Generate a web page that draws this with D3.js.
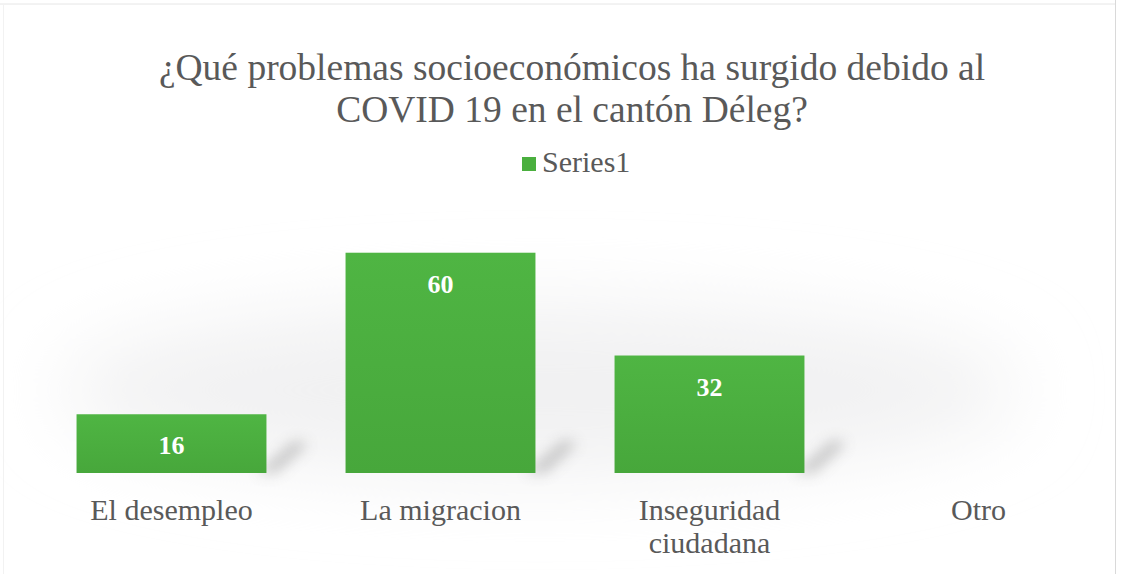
<!DOCTYPE html>
<html>
<head>
<meta charset="utf-8">
<script src="https://cdn.jsdelivr.net/npm/d3@7"></script>
<style>
  body { margin: 0; background: #fff; }
  svg { display: block; }
</style>
</head>
<body>
<div id="wrapper"></div>
<script>
// Chart data
const categories = ['El desempleo', 'La migracion', 'Inseguridad ciudadana', 'Otro'];
const values = [16, 60, 32, null];
const seriesName = 'Series1';
const titleLines = ['¿Qué problemas socioeconómicos ha surgido debido al', 'COVID 19 en el cantón Déleg?'];

const width = 1130;
const height = 574;
const margin = { top: 216, right: 17, bottom: 101, left: 37 };
const boundedWidth = width - margin.left - margin.right;
const boundedHeight = height - margin.top - margin.bottom;

const serif = '"Liberation Serif", "Times New Roman", serif';

const svg = d3.select('#wrapper')
  .append('svg')
  .attr('width', width)
  .attr('height', height);

const defs = svg.append('defs');

const barGrad = defs.append('linearGradient')
  .attr('id', 'barGrad')
  .attr('x1', 0).attr('y1', 0).attr('x2', 0).attr('y2', 1);
barGrad.append('stop').attr('offset', '0').attr('stop-color', '#4fb543');
barGrad.append('stop').attr('offset', '1').attr('stop-color', '#47a73b');

defs.append('filter')
  .attr('id', 'blur')
  .attr('x', '-50%').attr('y', '-50%').attr('width', '200%').attr('height', '200%')
  .append('feGaussianBlur').attr('stdDeviation', 7);

defs.append('filter')
  .attr('id', 'floorBlur')
  .attr('x', '-30%').attr('y', '-80%').attr('width', '160%').attr('height', '260%')
  .append('feGaussianBlur').attr('stdDeviation', 40);

// Background and frame
svg.append('rect')
  .attr('x', 0).attr('y', 0).attr('width', width).attr('height', height)
  .attr('fill', '#fff');
svg.append('ellipse')
  .attr('cx', 540).attr('cy', 390).attr('rx', 480).attr('ry', 85)
  .attr('fill', '#f1f1f2')
  .attr('filter', 'url(#floorBlur)');
svg.append('line')
  .attr('x1', 0).attr('x2', 1115).attr('y1', 4).attr('y2', 4)
  .attr('stroke', '#e6e6e6').attr('stroke-width', 1);
svg.append('line')
  .attr('x1', 1115.5).attr('x2', 1115.5).attr('y1', 0).attr('y2', height)
  .attr('stroke', '#d9d9d9').attr('stroke-width', 1);
svg.append('line')
  .attr('x1', 3.5).attr('x2', 3.5).attr('y1', 4).attr('y2', height)
  .attr('stroke', '#f2f2f2').attr('stroke-width', 1);

// Scales
const xScale = d3.scaleBand()
  .domain(categories)
  .range([0, boundedWidth])
  .paddingInner(0.294)
  .paddingOuter(0.147);

const yScale = d3.scaleLinear()
  .domain([0, 70])
  .range([boundedHeight, 0]);

const bounds = svg.append('g')
  .attr('transform', `translate(${margin.left}, ${margin.top})`);

const dataset = categories.map((c, i) => ({ category: c, value: values[i] }))
  .filter((d) => d.value != null);

// Shadows
bounds.selectAll('.shadow')
  .data(dataset)
  .enter()
  .append('path')
  .attr('class', 'shadow')
  .attr('d', (d) => {
    const x1 = xScale(d.category) + xScale.bandwidth();
    const y0 = boundedHeight;
    const h = Math.min(boundedHeight - yScale(d.value), 60);
    return `M${x1 - 10},${y0} L${x1 + 28},${y0 - h * 0.55} L${x1 + 42},${y0 - h * 0.5} L${x1 + 10},${y0} Z`;
  })
  .attr('fill', '#8a8a8a')
  .attr('opacity', 0.45)
  .attr('filter', 'url(#blur)');

// Bars
bounds.selectAll('.bar')
  .data(dataset)
  .enter()
  .append('rect')
  .attr('class', 'bar')
  .attr('x', (d) => xScale(d.category))
  .attr('y', (d) => yScale(d.value))
  .attr('width', xScale.bandwidth())
  .attr('height', (d) => boundedHeight - yScale(d.value))
  .attr('fill', 'url(#barGrad)');

// Data labels
bounds.selectAll('.value')
  .data(dataset)
  .enter()
  .append('text')
  .attr('class', 'value')
  .attr('x', (d) => xScale(d.category) + xScale.bandwidth() / 2)
  .attr('y', (d) => yScale(d.value) + 40)
  .attr('text-anchor', 'middle')
  .attr('fill', '#ffffff')
  .style('font-family', serif)
  .style('font-weight', 'bold')
  .style('font-size', '26px')
  .text((d) => d.value);

// Category axis
const xAxis = d3.axisBottom(xScale).tickSize(0).tickPadding(0);
const xAxisGroup = bounds.append('g')
  .attr('transform', `translate(0, ${boundedHeight})`)
  .call(xAxis);
xAxisGroup.select('.domain').remove();
xAxisGroup.selectAll('.tick text')
  .attr('fill', '#595959')
  .style('font-family', serif)
  .style('font-size', '30px')
  .each(function (d) {
    const el = d3.select(this);
    const words = d.split(' ');
    el.text(null);
    if (d === 'Inseguridad ciudadana') {
      el.append('tspan').attr('x', 0).attr('y', 47).text(words[0]);
      el.append('tspan').attr('x', 0).attr('y', 80).text(words[1]);
    } else {
      el.append('tspan').attr('x', 0).attr('y', 47).text(d);
    }
  })
  .attr('dy', null);

// Title
svg.append('text')
  .attr('x', 572)
  .attr('text-anchor', 'middle')
  .attr('fill', '#595959')
  .style('font-family', serif)
  .style('font-size', '37.5px')
  .selectAll('tspan')
  .data(titleLines)
  .enter()
  .append('tspan')
  .attr('x', 572)
  .attr('y', (d, i) => 80 + i * 42)
  .text((d) => d);

// Legend
const legend = svg.append('g')
  .attr('transform', 'translate(522, 157)');
legend.append('rect')
  .attr('width', 14).attr('height', 14)
  .attr('fill', '#4aaf3e');
legend.append('text')
  .attr('x', 20)
  .attr('y', 15)
  .attr('fill', '#595959')
  .style('font-family', serif)
  .style('font-size', '30px')
  .text(seriesName);
</script>
</body>
</html>
